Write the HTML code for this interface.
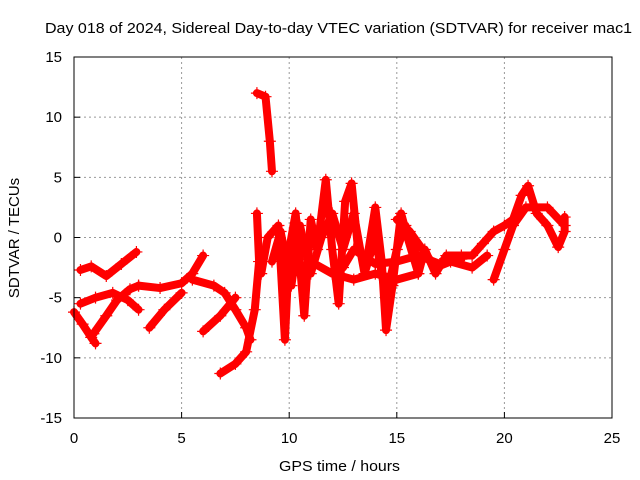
<!DOCTYPE html>
<html><head><meta charset="utf-8"><style>
body{margin:0;background:#fff}
svg{display:block;font-family:"Liberation Sans",sans-serif}
</style></head><body>
<svg id="chart" width="640" height="480" viewBox="0 0 640 480">
<text x="45" y="33" font-size="15" textLength="587" lengthAdjust="spacingAndGlyphs">Day 018 of 2024, Sidereal Day-to-day VTEC variation (SDTVAR) for receiver mac1</text>
<g id="grid"></g>
<g id="series"></g>
<rect x="74" y="57" width="538" height="361" fill="none" stroke="#000" stroke-width="1"/>
<g id="ticks"></g>
<text x="279" y="471" font-size="15" textLength="121" lengthAdjust="spacingAndGlyphs">GPS time / hours</text>
<text transform="translate(19,238) rotate(-90)" font-size="15" text-anchor="middle">SDTVAR / TECUs</text>
</svg>
<script>
const xTicks=[0,5,10,15,20,25];
const yTicks=[-15,-10,-5,0,5,10,15];
const track1=[[0.3,-2.7],[0.8,-2.4],[1.5,-3.2],[2.2,-2.2],[2.9,-1.2]];
const track2=[[0,-6.2],[0.4,-7.2],[0.8,-8.3],[1,-8.8]];
const track3=[[0.3,-5.5],[1,-5],[1.8,-4.6],[2.5,-5.2],[3,-6]];
const track4=[[0.9,-8],[1.5,-6.5],[2,-5.2],[2.6,-4.3],[3,-4]];
const track5=[[3.5,-7.5],[4.2,-6],[5,-4.6]];
const track6=[[3,-4],[4,-4.2],[5,-3.8],[5.5,-3],[6,-1.5]];
const track7=[[5.5,-3.5],[6.5,-4],[7,-4.6],[7.5,-6],[8,-7.5],[8.2,-8.5]];
const track8=[[6,-7.8],[6.8,-6.5],[7.5,-5]];
const track9=[[6.8,-11.3],[7.5,-10.5],[8,-9.5],[8.4,-6],[8.6,-2],[8.5,2]];
const track10=[[8.5,12],[8.9,11.7],[9.1,8],[9.2,5.5]];
const track11=[[8.7,-3],[9,0],[9.5,1],[9.8,-8.5],[10,-1],[10.3,2],[10.7,-6.5],[11,1.5],[11.3,-1],[11.7,4.8],[12,-1],[12.3,-5.5],[12.6,3],[12.9,4.5],[13.2,-1],[13.6,-2],[14,2.5],[14.3,-2],[14.5,-7.7],[14.8,-4],[15.2,2],[15.5,0],[16,-3],[16.3,-1],[16.8,-3],[17.3,-1.5],[18,-1.5],[18.5,-1.5],[19,-0.5],[19.5,0.5],[20,1],[20.4,1.5],[20.8,3.5],[21.1,4.3],[21.5,2],[22,1],[22.5,-0.8],[22.8,0.5],[22.8,1.7]];
const track12=[[12.5,-2.5],[13,-1],[14,-2.2],[15,-2],[16,-1.5],[17,-2.2],[18,-1.8]];
const track13=[[19.5,-3.5],[20,-1],[20.4,1],[21,2.5],[22,2.5],[22.8,1]];
const track14=[[10.2,-3],[11,-2],[12,-3],[13,-3.5],[14,-3],[15,-3.5],[16,-3]];
const track15=[[9.2,-2],[9.6,0.5],[10.1,-4],[10.5,1],[11,-3],[11.5,0],[12,2],[12.5,-1],[13,2],[13.5,-3],[14,0],[14.5,-5],[15,-1],[15.4,1],[16,-2]];
const track16=[[15,1.5],[15.6,0.5],[16.2,-1],[16.8,-2.5],[17.5,-2],[18.5,-2.5],[19.2,-1.5]];
const tracks=[track1,track2,track3,track4,track5,track6,track7,track8,track9,track10,track11,track12,track13,track14,track15,track16];
const X=h=>74+h*538/25, Y=v=>237.5-v*361/30;
const NS="http://www.w3.org/2000/svg";
const grid=document.getElementById('grid'),ticks=document.getElementById('ticks'),ser=document.getElementById('series');
function mk(tag,at,parent){const e=document.createElementNS(NS,tag);for(const k in at)e.setAttribute(k,at[k]);parent.appendChild(e);return e;}
xTicks.forEach(t=>{
 const x=X(t);
 if(t>0&&t<25){const l=mk('line',{x1:x,x2:x,y1:57,y2:418,stroke:'#999','stroke-dasharray':'2,3'},grid);
 
 }
 const tk=mk('line',{x1:x,x2:x,y1:418,y2:412,stroke:'#000'},ticks);
 
 
 const tx=mk('text',{x:x,y:443,'font-size':15,'text-anchor':'middle'},ticks);tx.textContent=t;
 
 
});
yTicks.forEach(t=>{
 const y=Y(t);
 if(t>-15&&t<15){const l=mk('line',{x1:74,x2:612,y1:y,y2:y,stroke:'#999','stroke-dasharray':'2,3'},grid);
 
 }
 const tk=mk('line',{x1:74,x2:80,y1:y,y2:y,stroke:'#000'},ticks);
 
 
 const tx=mk('text',{x:62,y:y+5,'font-size':15,'text-anchor':'end'},ticks);tx.textContent=t;
 
 
});
tracks.forEach(tr=>{
 const p=mk('polyline',{points:tr.map(d=>X(d[0])+','+Y(d[1])).join(' '),fill:'none',stroke:'#f00','stroke-width':8,'stroke-linejoin':'round','stroke-linecap':'round'},ser);
 
 
 tr.forEach(d=>{const x=X(d[0]),y=Y(d[1]);
  const m=mk('path',{d:`M${x-6},${y}H${x+6}M${x},${y-6}V${y+6}`,stroke:'#f00','stroke-width':1.2},ser);
  
  });
});
</script>
</body></html>
